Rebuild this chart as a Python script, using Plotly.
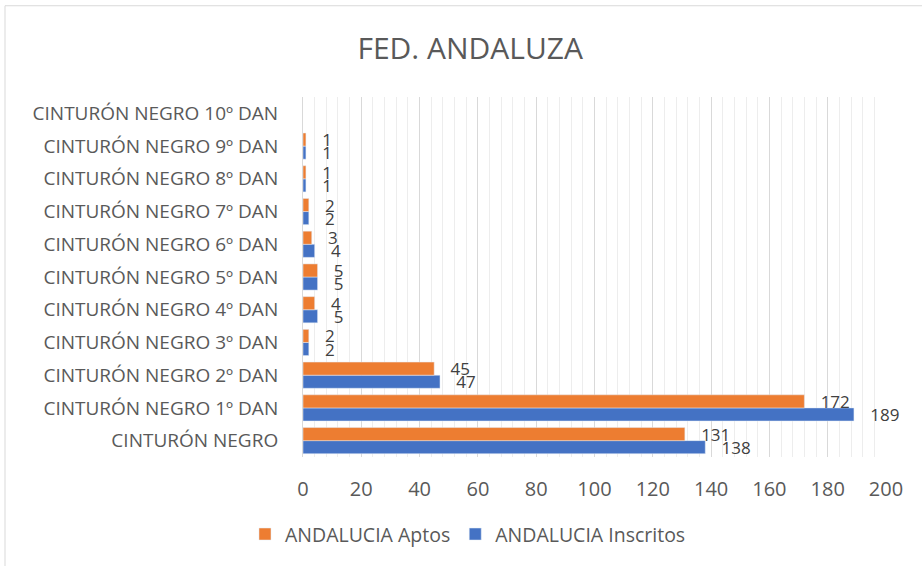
import plotly.graph_objects as go

categories = ["CINTURÓN NEGRO", "CINTURÓN NEGRO 1º DAN", "CINTURÓN NEGRO 2º DAN",
              "CINTURÓN NEGRO 3º DAN", "CINTURÓN NEGRO 4º DAN", "CINTURÓN NEGRO 5º DAN",
              "CINTURÓN NEGRO 6º DAN", "CINTURÓN NEGRO 7º DAN", "CINTURÓN NEGRO 8º DAN",
              "CINTURÓN NEGRO 9º DAN", "CINTURÓN NEGRO 10º DAN"]
aptos = [131, 172, 45, 2, 4, 5, 3, 2, 1, 1, None]
inscritos = [138, 189, 47, 2, 5, 5, 4, 2, 1, 1, None]
x_ticks = list(range(0, 201, 20))

W, H = 922, 566
L, R, T, B = 303, 36, 97, 106

font = "Open Sans, sans-serif"
gray = "#595959"
pad = "\u00a0\u00a0\u00a0"

fig = go.Figure()
fig.add_trace(go.Bar(y=categories, x=inscritos, orientation="h", name="ANDALUCIA Inscritos",
                     marker=dict(color="#4472C4"), texttemplate=pad + "%{x}", textposition="outside",
                     constraintext="none",
                     textfont=dict(size=17, color="#404040"), cliponaxis=False, legendrank=2))
fig.add_trace(go.Bar(y=categories, x=aptos, orientation="h", name="ANDALUCIA Aptos",
                     marker=dict(color="#ED7D31"), texttemplate=pad + "%{x}", textposition="outside",
                     constraintext="none",
                     textfont=dict(size=17, color="#404040"), cliponaxis=False, legendrank=1))

pw = W - L - R
ph = H - T - B
fig.add_shape(type="rect", xref="paper", yref="paper",
              x0=(5 - L) / pw, x1=(W + 5 - L) / pw,
              y0=(H - B - (H + 5)) / ph, y1=(H - B - 5) / ph,
              line=dict(color="#D9D9D9", width=1), fillcolor="rgba(0,0,0,0)", layer="below")

fig.update_layout(
    width=W, height=H,
    margin=dict(l=L, r=R, t=T, b=B),
    paper_bgcolor="white", plot_bgcolor="white",
    barmode="group", bargap=0.2, bargroupgap=0,
    title=dict(text="FED. ANDALUZA", x=0.51, xanchor="center", y=1 - 48 / H, yanchor="middle",
               font=dict(family=font, size=30, color=gray)),
    font=dict(family=font, color=gray, size=17),
    xaxis=dict(range=[0, 200], tickvals=x_ticks, showgrid=True, gridcolor="#D9D9D9", gridwidth=1,
               minor=dict(dtick=4, showgrid=True, gridcolor="#EDEDED", gridwidth=1),
               zeroline=False, showline=False, ticks="", tickfont=dict(size=20, color=gray),
               ticklabelstandoff=18, fixedrange=True),
    yaxis=dict(showgrid=False, ticks="", ticklen=0, showline=True, linecolor="#D9D9D9",
               tickfont=dict(size=19, color=gray), automargin=False, ticklabelstandoff=20),
    legend=dict(orientation="h", x=0.283, xanchor="center", y=-(538 - (H - B)) / ph, yanchor="middle",
                font=dict(size=19.5, color=gray), traceorder="normal"),
    showlegend=True,
)
fig.write_html("out.html", config={"displayModeBar": False},
               post_script="document.body.style.margin='0';")
